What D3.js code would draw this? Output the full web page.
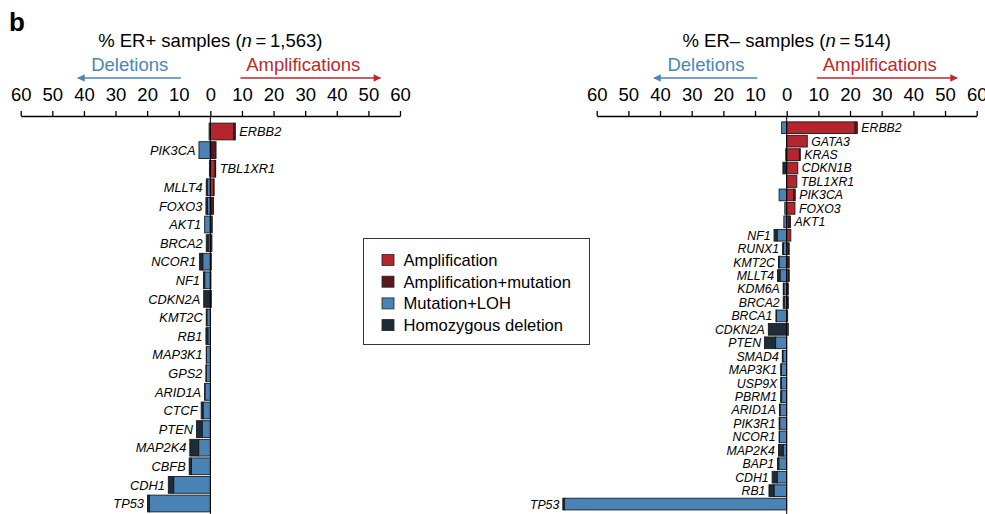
<!DOCTYPE html>
<html>
<head>
<meta charset="utf-8">
<script src="https://cdn.jsdelivr.net/npm/d3@7"></script>
<style>
  body { margin: 0; background: #fff; }
  svg { font-family: "Liberation Sans", Arial, sans-serif; }
</style>
</head>
<body>
<div id="chart"></div>
<script>
// ER+ panel (% of 1,563 samples)
const genesPos = ["ERBB2", "PIK3CA", "TBL1XR1", "MLLT4", "FOXO3", "AKT1", "BRCA2", "NCOR1", "NF1", "CDKN2A",
  "KMT2C", "RB1", "MAP3K1", "GPS2", "ARID1A", "CTCF", "PTEN", "MAP2K4", "CBFB", "CDH1", "TP53"];
const ampPos    = [7.4, 0.3, 1.5, 1.0, 0.2, 0, 0, 0, 0, 0, 0, 0, 0, 0, 0, 0, 0, 0, 0, 0, 0];
const ampMutPos = [0.5, 1.5, 0.2, 0.2, 0.8, 0.6, 0.5, 0.3, 0.2, 0.3, 0, 0, 0, 0, 0, 0, 0, 0, 0, 0, 0];
const mutLohPos = [0.4, 3.6, 0.3, 1.0, 0.9, 1.8, 0.7, 2.4, 1.8, 0, 1.1, 0.8, 1.2, 1.3, 1.7, 2.3, 2.6, 3.7, 6.0, 11.6, 19.3];
const homDelPos = [0, 0, 0, 0.3, 0.5, 0, 0.6, 1.0, 0.4, 2.1, 0.2, 0.6, 0.1, 0.1, 0.1, 0.6, 1.8, 2.8, 0.7, 1.7, 0.6];

// ER- panel (% of 514 samples)
const genesNeg = ["ERBB2", "GATA3", "KRAS", "CDKN1B", "TBL1XR1", "PIK3CA", "FOXO3", "AKT1", "NF1", "RUNX1",
  "KMT2C", "MLLT4", "KDM6A", "BRCA2", "BRCA1", "CDKN2A", "PTEN", "SMAD4", "MAP3K1", "USP9X",
  "PBRM1", "ARID1A", "PIK3R1", "NCOR1", "MAP2K4", "BAP1", "CDH1", "RB1", "TP53"];
const ampNeg    = [21.6, 6.5, 4.0, 3.5, 3.2, 2.2, 2.6, 0.7, 1.3, 0.5, 0, 0.6, 0.3, 0.3, 0.3, 0.5, 0, 0, 0, 0, 0, 0, 0, 0, 0, 0, 0, 0, 0];
const ampMutNeg = [0.7, 0, 0.3, 0, 0, 0.5, 0, 0.5, 0, 0.3, 0.8, 0.2, 0.2, 0.2, 0, 0, 0, 0, 0, 0, 0, 0, 0, 0, 0, 0, 0, 0, 0];
const mutLohNeg = [1.6, 0, 0.3, 0, 0, 2.4, 0.6, 0.9, 3.0, 1.0, 2.4, 2.1, 0.9, 0.8, 3.2, 0, 3.5, 1.2, 1.7, 1.7,
  1.6, 2.1, 2.2, 2.3, 1.1, 2.5, 3.0, 4.0, 70.2];
const homDelNeg = [0, 0, 0, 1.2, 0, 0, 0, 0, 1.0, 0.3, 0.2, 0.8, 0.2, 0.3, 0.2, 5.8, 3.5, 0.2, 0.2, 0.2,
  0.3, 0.2, 0.2, 0.1, 1.5, 0.4, 1.6, 1.6, 0.5];

const tickValues = [-60, -50, -40, -30, -20, -10, 0, 10, 20, 30, 40, 50, 60];
const categories = ["Amplification", "Amplification+mutation", "Mutation+LOH", "Homozygous deletion"];

const colors = {
  "Amplification": "#b5252e",
  "Amplification+mutation": "#5a1a1c",
  "Mutation+LOH": "#4a83b6",
  "Homozygous deletion": "#1d2c3a"
};

const width = 985, height = 514;

const svg = d3.select("#chart").append("svg")
  .attr("width", width)
  .attr("height", height);

svg.append("text")
  .attr("x", 9)
  .attr("y", 31)
  .attr("font-size", 26)
  .attr("font-weight", "bold")
  .text("b");

const defs = svg.append("defs");
[["arrowBlue", "#4a86b8"], ["arrowRed", "#c0272d"]].forEach(([id, c]) => {
  defs.append("marker")
    .attr("id", id)
    .attr("viewBox", "0 0 10 10")
    .attr("refX", 9).attr("refY", 5)
    .attr("markerWidth", 6).attr("markerHeight", 5)
    .attr("markerUnits", "strokeWidth")
    .attr("orient", "auto")
    .append("path")
    .attr("d", "M0,0L10,5L0,10Z")
    .attr("fill", c);
});

function drawPanel(cfg) {
  const x = d3.scaleLinear().domain([-60, 60]).range(cfg.xRange);

  const rows = cfg.genes.map((g, i) => ({
    gene: g,
    "Mutation+LOH": -cfg.mutLoh[i],
    "Homozygous deletion": -cfg.homDel[i],
    "Amplification": cfg.amp[i],
    "Amplification+mutation": cfg.ampMut[i]
  }));

  const y = d3.scaleBand()
    .domain(cfg.genes)
    .range(cfg.yRange)
    .paddingInner(cfg.pad)
    .paddingOuter(cfg.pad / 2);

  const series = d3.stack()
    .keys(["Mutation+LOH", "Homozygous deletion", "Amplification", "Amplification+mutation"])
    .offset(d3.stackOffsetDiverging)(rows);

  const g = svg.append("g");

  // titles
  const zero = x(0);
  g.append("text")
    .attr("x", zero).attr("y", 47)
    .attr("text-anchor", "middle")
    .attr("font-size", 18.5)
    .call(t => {
      t.append("tspan").text(cfg.title);
      t.append("tspan").attr("font-style", "italic").text("n");
      t.append("tspan").text("\u2009=\u2009" + cfg.n + ")");
    });

  g.append("text")
    .attr("x", x(-25.5)).attr("y", 71)
    .attr("text-anchor", "middle")
    .attr("font-size", 18.5)
    .attr("fill", "#4a86b8")
    .text("Deletions");
  g.append("line")
    .attr("x1", x(-9.3)).attr("x2", x(-41.9))
    .attr("y1", 78).attr("y2", 78)
    .attr("stroke", "#4a86b8").attr("stroke-width", 1.5)
    .attr("marker-end", "url(#arrowBlue)");

  g.append("text")
    .attr("x", x(29.4)).attr("y", 71)
    .attr("text-anchor", "middle")
    .attr("font-size", 18.5)
    .attr("fill", "#c0272d")
    .text("Amplifications");
  g.append("line")
    .attr("x1", x(9.5)).attr("x2", x(53.8))
    .attr("y1", 78).attr("y2", 78)
    .attr("stroke", "#c0272d").attr("stroke-width", 1.5)
    .attr("marker-end", "url(#arrowRed)");

  // axis
  const axis = d3.axisTop(x)
    .tickValues(tickValues)
    .tickFormat(d => Math.abs(d))
    .tickSize(5)
    .tickSizeOuter(0)
    .tickPadding(10);

  const ax = g.append("g")
    .attr("transform", "translate(0,116)")
    .call(axis);
  ax.select(".domain").attr("stroke-width", 1.4);
  ax.selectAll(".tick line").attr("stroke-width", 1.3);
  ax.selectAll(".tick text")
    .attr("font-size", 18.5)
    .attr("font-family", "'Liberation Sans', Arial, sans-serif")
    .attr("fill", "#000");

  // bars
  g.append("g")
    .selectAll("g")
    .data(series)
    .join("g")
    .attr("fill", s => colors[s.key])
    .selectAll("rect")
    .data(s => s.filter(d => d[1] - d[0] > 0))
    .join("rect")
    .attr("x", d => x(d[0]))
    .attr("width", d => x(d[1]) - x(d[0]))
    .attr("y", d => y(d.data.gene))
    .attr("height", y.bandwidth())
    .attr("stroke", "#1a1a1a")
    .attr("stroke-width", 0.9);

  // zero line
  g.append("line")
    .attr("x1", zero).attr("x2", zero)
    .attr("y1", 116).attr("y2", 514)
    .attr("stroke", "#000").attr("stroke-width", 1);

  // gene labels
  g.append("g")
    .selectAll("text")
    .data(rows)
    .join("text")
    .attr("font-size", cfg.labelSize)
    .attr("font-style", "italic")
    .attr("y", d => y(d.gene) + y.bandwidth() / 2)
    .attr("dy", "0.36em")
    .each(function (d) {
      const amp = d["Amplification"] + d["Amplification+mutation"];
      const del = -(d["Mutation+LOH"] + d["Homozygous deletion"]);
      const sel = d3.select(this);
      if (amp > del) {
        sel.attr("x", x(amp) + 4).attr("text-anchor", "start");
      } else {
        sel.attr("x", x(-del) - 3.5).attr("text-anchor", "end");
      }
    })
    .text(d => d.gene);
}

drawPanel({
  genes: genesPos, amp: ampPos, ampMut: ampMutPos, mutLoh: mutLohPos, homDel: homDelPos,
  xRange: [20.7, 400], yRange: [122.2, 512.8], pad: 0.1, labelSize: 12.8,
  title: "% ER+ samples (", n: "1,563"
});

drawPanel({
  genes: genesNeg, amp: ampNeg, ampMut: ampMutNeg, mutLoh: mutLohNeg, homDel: homDelNeg,
  xRange: [596.7, 976.7], yRange: [121, 510.8], pad: 0.13, labelSize: 12.3,
  title: "% ER\u2013 samples (", n: "514"
});

// legend
const legend = svg.append("g");
legend.append("rect")
  .attr("x", 363.5).attr("y", 238.5)
  .attr("width", 226).attr("height", 106)
  .attr("fill", "#fff")
  .attr("stroke", "#333").attr("stroke-width", 1);

const li = legend.selectAll("g.item")
  .data(categories)
  .join("g")
  .attr("class", "item")
  .attr("transform", (d, i) => `translate(382,${260 + i * 21.7})`);

li.append("rect")
  .attr("x", 0).attr("y", -5.5)
  .attr("width", 12).attr("height", 11)
  .attr("fill", d => colors[d])
  .attr("stroke", "#222").attr("stroke-width", 0.8);

li.append("text")
  .attr("x", 21.5)
  .attr("dy", "0.36em")
  .attr("font-size", 16.6)
  .text(d => d);
</script>
</body>
</html>
